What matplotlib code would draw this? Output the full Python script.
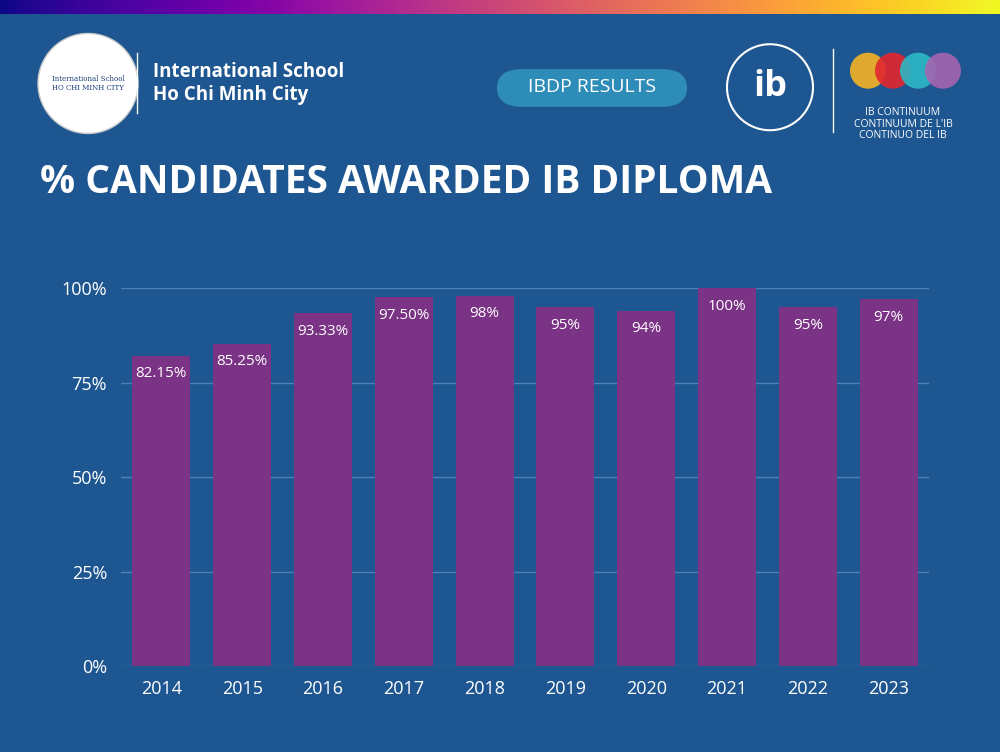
import matplotlib.pyplot as plt
import numpy as np
from matplotlib.patches import Ellipse, FancyBboxPatch

years = ["2014", "2015", "2016", "2017", "2018", "2019", "2020", "2021", "2022", "2023"]
values = [82.15, 85.25, 93.33, 97.5, 98, 95, 94, 100, 95, 97]
labels = ["82.15%", "85.25%", "93.33%", "97.50%", "98%", "95%", "94%", "100%", "95%", "97%"]
yticks = [0, 25, 50, 75, 100]

bg = "#1d5690"
bar_color = "#7b3385"
plt.rcParams['font.family'] = 'Open Sans'

W, H = 10, 7.52
fig = plt.figure(figsize=(W, H), dpi=100)
fig.patch.set_facecolor(bg)


def circ(cx, cy, r, **kw):
    # circle in figure coords, radius given in fraction of width
    fig.patches.append(Ellipse((cx, cy), 2 * r, 2 * r * W / H, transform=fig.transFigure, **kw))


# top colour strip
strip = fig.add_axes([0, 0.982, 1, 0.018])
strip.imshow([np.linspace(0, 1, 256)], cmap="plasma", aspect="auto", extent=[0, 1, 0, 1])
strip.axis("off")

# header
circ(0.088, 0.889, 0.05, facecolor="white", edgecolor="#cccccc")
fig.text(0.088, 0.889, "International School\nHO CHI MINH CITY", ha="center", va="center",
         fontsize=5, color="#1d3f7a", family="DejaVu Serif")
fig.add_artist(plt.Line2D([0.137, 0.137], [0.85, 0.93], color="white", lw=1, transform=fig.transFigure))
fig.text(0.153, 0.889, "International School\nHo Chi Minh City", ha="left", va="center",
         fontsize=13.5, color="white", fontweight="bold", linespacing=1.2)
fig.patches.append(FancyBboxPatch((0.497, 0.858), 0.19, 0.05, boxstyle="round,pad=0,rounding_size=0.025",
                                  transform=fig.transFigure, facecolor="#2e8cb8", edgecolor="none"))
fig.text(0.592, 0.884, "IBDP RESULTS", ha="center", va="center", fontsize=14, color="white")
circ(0.77, 0.884, 0.043, facecolor="#1d5690", edgecolor="white", lw=1.5)
fig.text(0.77, 0.884, "ib", ha="center", va="center", fontsize=26, color="white", fontweight="bold")
fig.add_artist(plt.Line2D([0.833, 0.833], [0.825, 0.935], color="white", lw=1, transform=fig.transFigure))
for cx, c in zip([0.868, 0.893, 0.918, 0.943], ["#f5b325", "#e2262e", "#2db8c5", "#a565b0"]):
    circ(cx, 0.906, 0.018, facecolor=c, edgecolor="none", alpha=0.9)
fig.text(0.903, 0.858, "IB CONTINUUM\nCONTINUUM DE L'IB\nCONTINUO DEL IB", ha="center", va="top",
         fontsize=7.5, color="white", linespacing=1.1)
fig.text(0.04, 0.757, "% CANDIDATES AWARDED IB DIPLOMA", ha="left", va="center",
         fontsize=28, color="white", fontweight="bold")

ax = fig.add_axes([0.121, 0.114, 0.808, 0.503])
ax.set_facecolor(bg)
x = range(len(years))
ax.bar(x, values, width=0.72, color=bar_color, zorder=2)
for i, (v, t) in enumerate(zip(values, labels)):
    ax.text(i, v - 2.8, t, ha="center", va="top", color="white", fontsize=11)
ax.set_ylim(0, 100)
ax.set_xlim(-0.5, len(years) - 0.5)
ax.set_yticks(yticks)
ax.set_yticklabels([f"{t}%" for t in yticks])
ax.set_xticks(list(x))
ax.set_xticklabels(years)
ax.grid(axis="y", color="#4f80b5", lw=1, zorder=0)
ax.tick_params(colors="white", labelsize=13, length=0, pad=10)
for s in ax.spines.values():
    s.set_visible(False)

fig.savefig("out.png", dpi=100, facecolor=bg)
